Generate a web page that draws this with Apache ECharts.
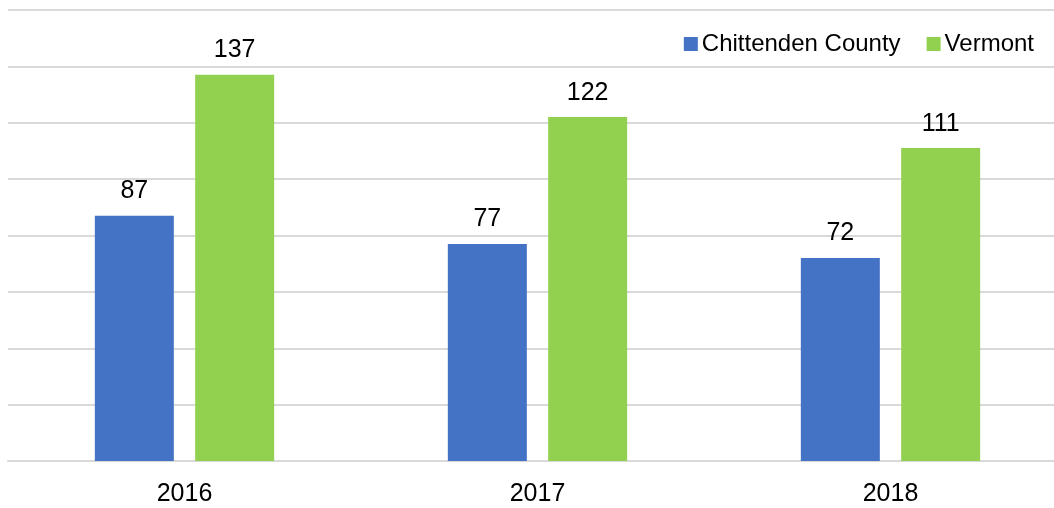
<!DOCTYPE html>
<html><head><meta charset="utf-8">
<script src="https://cdn.jsdelivr.net/npm/echarts@6/dist/echarts.min.js"></script>
<style>html,body{margin:0;padding:0;background:#fff;overflow:hidden}#c{width:1068px;height:508px}</style>
</head><body><div id="c"></div>
<script>
const categories = ['2016', '2017', '2018'];
const chittenden = [87, 77, 72];
const vermont = [137, 122, 111];
const seriesNames = ['Chittenden County', 'Vermont'];

const chart = echarts.init(document.getElementById('c'), null, {renderer: 'canvas'});
const font = 'Liberation Sans, Arial, sans-serif';
const labelCfg = {show: true, position: 'top', distance: 12, color: '#000', fontSize: 25, fontFamily: font};
chart.setOption({
  animation: false,
  legend: {
    data: seriesNames, top: 27, right: 29, itemWidth: 14, itemHeight: 14, itemGap: 26,
    icon: 'rect',
    textStyle: {fontSize: 24, fontFamily: font, color: '#000', padding: [0,0,0,-1]}
  },
  grid: {left: 8, right: 1, top: 10, bottom: 47, containLabel: false},
  xAxis: {
    type: 'category', data: categories,
    axisLine: {lineStyle: {color: '#d9d9d9', width: 2}},
    axisTick: {show: false},
    axisLabel: {fontSize: 25, fontFamily: font, color: '#000', margin: 21}
  },
  yAxis: {
    type: 'value', min: 0, max: 160, interval: 20,
    axisLabel: {show: false}, axisLine: {show: false}, axisTick: {show: false},
    splitLine: {lineStyle: {color: '#d9d9d9', width: 2}}
  },
  series: [
    {name: seriesNames[0], type: 'bar', data: chittenden, barWidth: 79, barGap: '27%', itemStyle: {color: '#4472c4'}, label: labelCfg},
    {name: seriesNames[1], type: 'bar', data: vermont, barWidth: 79, itemStyle: {color: '#92d050'}, label: labelCfg}
  ]
});
</script></body></html>
